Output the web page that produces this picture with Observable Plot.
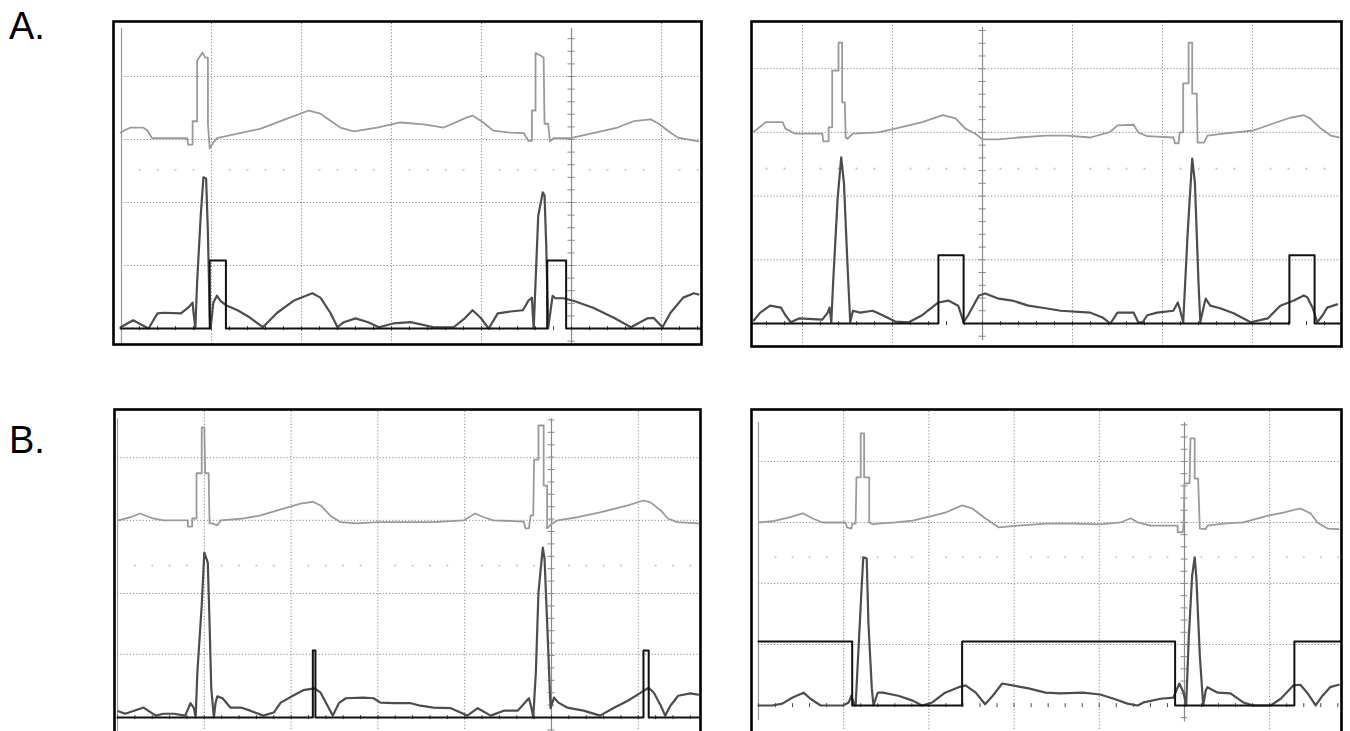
<!DOCTYPE html>
<html><head><meta charset="utf-8">
<script src="https://cdn.jsdelivr.net/npm/d3@7"></script>
<script src="https://cdn.jsdelivr.net/npm/@observablehq/plot@0.6"></script>
<style>
html,body{margin:0;padding:0;background:#fff;overflow:hidden;}
#root{position:relative;width:1350px;height:731px;overflow:hidden;font-family:"Liberation Sans",Arial,sans-serif;}
.lab{position:absolute;font-size:38px;color:#000;line-height:1;}
.panel{position:absolute;}
</style></head><body><div id="root">
<div class="lab" style="left:9px;top:7px">A.</div>
<div class="lab" style="left:9px;top:421px">B.</div>
</div>
<script>
// ---------- data (time in screen divisions, amplitude in divisions) ----------
const aLeftGray = [[-5.01,3.11],[-4.90,3.19],[-4.76,3.19],[-4.71,3.14],[-4.66,3.02],[-4.27,3.02],[-4.26,2.92],[-4.21,2.92],[-4.21,3.29],[-4.16,3.29],[-4.16,4.25],[-4.10,4.38],[-4.07,4.30],[-4.04,4.30],[-4.04,3.25],[-4.02,2.86],[-3.98,2.95],[-3.94,3.02],[-3.46,3.17],[-3.16,3.33],[-2.92,3.46],[-2.79,3.41],[-2.57,3.19],[-2.42,3.13],[-2.16,3.19],[-1.90,3.27],[-1.64,3.24],[-1.42,3.19],[-1.16,3.35],[-1.10,3.38],[-0.98,3.27],[-0.87,3.14],[-0.68,3.11],[-0.53,3.10],[-0.48,2.98],[-0.44,2.98],[-0.44,3.46],[-0.40,3.46],[-0.40,4.37],[-0.34,4.33],[-0.31,4.30],[-0.30,3.25],[-0.26,3.25],[-0.24,2.97],[-0.20,3.02],[-0.01,3.02],[0.24,3.10],[0.51,3.19],[0.69,3.29],[0.88,3.32],[0.97,3.25],[1.07,3.14],[1.18,3.03],[1.41,2.97]];
const aLeftDark = [[-5.01,0.02],[-4.87,0.13],[-4.70,0],[-4.60,0.24],[-4.53,0.25],[-4.34,0.24],[-4.26,0.33],[-4.21,0.41],[-4.20,0.25],[-4.18,0],[-4.16,0.73],[-4.12,1.79],[-4.09,2.40],[-4.06,2.38],[-4.04,1.52],[-4.02,0.21],[-4.01,0],[-3.98,0.41],[-3.94,0.52],[-3.90,0.44],[-3.84,0.37],[-3.71,0.29],[-3.57,0.17],[-3.43,0.02],[-3.27,0.25],[-3.09,0.44],[-2.88,0.56],[-2.79,0.49],[-2.68,0.25],[-2.60,0.02],[-2.53,0.10],[-2.40,0.16],[-2.26,0.10],[-2.14,0.02],[-1.98,0.08],[-1.79,0.10],[-1.53,0.02],[-1.31,0.02],[-1.18,0.17],[-1.10,0.29],[-1.01,0.17],[-0.92,0],[-0.82,0.24],[-0.68,0.27],[-0.54,0.29],[-0.48,0.44],[-0.44,0.49],[-0.43,0.21],[-0.42,0],[-0.40,0.73],[-0.37,1.79],[-0.32,2.16],[-0.30,2.11],[-0.28,1.27],[-0.26,0],[-0.24,0.21],[-0.21,0.52],[-0.18,0.48],[-0.09,0.48],[0.02,0.44],[0.24,0.33],[0.47,0.17],[0.66,0.02],[0.84,0.16],[0.91,0.17],[1.01,0.02],[1.10,0.25],[1.24,0.49],[1.36,0.56],[1.41,0.54]];
const aLeftPulse = [[-5.01,0],[-4.02,1.08],[-3.84,0],[-0.27,1.08],[-0.06,0],[1.44,0]];

const aRightGray = [[-2.54,3.01],[-2.41,3.16],[-2.22,3.16],[-2.19,3.06],[-2.08,2.98],[-1.78,2.98],[-1.77,2.86],[-1.71,2.86],[-1.71,3.08],[-1.67,3.08],[-1.67,3.97],[-1.60,3.97],[-1.60,4.41],[-1.56,4.41],[-1.56,3.47],[-1.53,3.47],[-1.52,2.92],[-1.50,2.90],[-1.44,2.98],[-1.16,3.00],[-0.97,3.06],[-0.67,3.16],[-0.44,3.27],[-0.30,3.22],[-0.19,3.06],[-0.08,2.98],[0,2.89],[0.18,2.89],[0.40,2.92],[0.70,2.95],[0.94,2.95],[1.20,2.92],[1.42,3.01],[1.50,3.11],[1.68,3.12],[1.73,3.00],[1.83,2.94],[2.12,2.92],[2.14,2.83],[2.18,2.83],[2.19,3.00],[2.23,3.00],[2.23,3.77],[2.29,3.77],[2.29,4.41],[2.33,4.41],[2.33,3.61],[2.38,3.61],[2.39,2.84],[2.46,2.84],[2.50,2.95],[2.68,2.98],[3.01,3.03],[3.23,3.14],[3.42,3.23],[3.57,3.27],[3.64,3.22],[3.76,3.06],[3.87,2.95],[3.96,2.92]];
const aRightDark = [[-2.54,0.05],[-2.47,0.17],[-2.36,0.28],[-2.24,0.25],[-2.19,0.13],[-2.13,0.02],[-2.04,0.08],[-1.78,0.06],[-1.72,0.17],[-1.70,0.25],[-1.68,0.02],[-1.66,0.64],[-1.61,1.96],[-1.57,2.61],[-1.54,2.21],[-1.50,0.91],[-1.47,0.02],[-1.44,0.20],[-1.36,0.17],[-1.22,0.20],[-1.11,0.13],[-0.97,0.03],[-0.82,0.02],[-0.67,0.13],[-0.49,0.33],[-0.38,0.36],[-0.27,0.28],[-0.21,0.02],[-0.16,0.13],[-0.04,0.44],[0.03,0.47],[0.18,0.39],[0.33,0.36],[0.51,0.28],[0.70,0.24],[0.87,0.20],[1.20,0.17],[1.34,0.09],[1.42,0],[1.50,0.17],[1.68,0.17],[1.73,0.02],[1.78,0.02],[1.83,0.13],[1.94,0.17],[2.12,0.20],[2.17,0.33],[2.19,0.24],[2.23,0.02],[2.28,1.43],[2.33,2.59],[2.36,2.21],[2.40,0.64],[2.42,0.02],[2.46,0.28],[2.48,0.39],[2.53,0.28],[2.64,0.24],[2.79,0.16],[2.98,0.02],[3.17,0.08],[3.31,0.28],[3.46,0.36],[3.57,0.44],[3.61,0.41],[3.67,0.24],[3.72,0.02],[3.78,0.13],[3.83,0.25],[3.94,0.30]];
const aRightPulse = [[-2.57,0],[-0.49,1.07],[-0.21,0],[3.41,1.07],[3.69,0],[3.99,0]];

const bLeftGray = [[-4.99,3.18],[-4.85,3.23],[-4.74,3.29],[-4.59,3.21],[-4.47,3.18],[-4.19,3.18],[-4.19,3.08],[-4.14,3.08],[-4.14,3.21],[-4.09,3.21],[-4.09,3.94],[-4.03,3.94],[-4.03,4.68],[-4.00,4.68],[-3.99,3.94],[-3.95,3.94],[-3.94,3.13],[-3.91,3.13],[-3.85,3.10],[-3.81,3.18],[-3.55,3.21],[-3.35,3.26],[-3.09,3.37],[-2.89,3.45],[-2.75,3.48],[-2.66,3.42],[-2.55,3.26],[-2.43,3.15],[-2.24,3.13],[-2.00,3.15],[-1.74,3.15],[-1.36,3.15],[-1.01,3.18],[-0.88,3.29],[-0.78,3.23],[-0.67,3.18],[-0.32,3.16],[-0.30,3.05],[-0.26,3.05],[-0.24,3.26],[-0.21,3.26],[-0.20,4.16],[-0.15,4.16],[-0.15,4.71],[-0.09,4.71],[-0.09,3.74],[-0.05,3.74],[-0.05,3.05],[0.01,3.13],[0.07,3.18],[0.30,3.23],[0.56,3.31],[0.88,3.42],[1.06,3.50],[1.14,3.47],[1.26,3.34],[1.34,3.21],[1.45,3.15],[1.69,3.13]];
const bLeftDark = [[-4.99,0.10],[-4.91,0.06],[-4.70,0.16],[-4.56,0.03],[-4.47,0.06],[-4.35,0.06],[-4.22,0.03],[-4.16,0.23],[-4.12,0.15],[-4.10,0],[-4.08,0.73],[-4.03,1.81],[-4.00,2.66],[-3.96,2.50],[-3.94,1.53],[-3.92,0.47],[-3.89,0],[-3.87,0.24],[-3.85,0.34],[-3.79,0.31],[-3.70,0.16],[-3.58,0.16],[-3.47,0.11],[-3.32,0.03],[-3.20,0.08],[-3.12,0.24],[-2.98,0.35],[-2.86,0.44],[-2.73,0.47],[-2.66,0.40],[-2.58,0.19],[-2.52,0.03],[-2.45,0.23],[-2.37,0.31],[-2.17,0.32],[-2.05,0.31],[-1.97,0.24],[-1.82,0.23],[-1.62,0.23],[-1.51,0.19],[-1.36,0.16],[-1.16,0.15],[-0.97,0.03],[-0.85,0.15],[-0.70,0.03],[-0.55,0.11],[-0.39,0.11],[-0.26,0.31],[-0.23,0.15],[-0.21,0],[-0.18,0.73],[-0.15,2.02],[-0.10,2.74],[-0.08,2.56],[-0.05,1.53],[-0.02,0.47],[-0.01,0.15],[0.01,0.24],[0.03,0.32],[0.08,0.24],[0.18,0.16],[0.37,0.11],[0.56,0.03],[0.71,0.15],[0.88,0.27],[1.03,0.40],[1.12,0.48],[1.18,0.40],[1.26,0.19],[1.31,0.03],[1.37,0.19],[1.46,0.35],[1.60,0.39],[1.69,0.37]];
const bLeftPulse = [[-5.00,0],[-2.75,1.08],[-2.72,0],[1.06,1.08],[1.12,0],[1.72,0]];

const bRightGray = [[-5.00,3.00],[-4.84,3.02],[-4.65,3.08],[-4.48,3.15],[-4.37,3.07],[-4.25,3.00],[-3.98,3.00],[-3.96,2.92],[-3.91,2.90],[-3.90,2.98],[-3.86,2.98],[-3.85,3.74],[-3.80,3.74],[-3.80,4.46],[-3.76,4.46],[-3.76,3.74],[-3.70,3.74],[-3.70,3.00],[-3.66,2.97],[-3.60,2.98],[-3.39,3.00],[-3.19,3.03],[-2.96,3.11],[-2.81,3.16],[-2.61,3.28],[-2.49,3.23],[-2.34,3.07],[-2.18,2.92],[-1.95,2.95],[-1.63,2.98],[-1.30,2.98],[-0.99,2.97],[-0.75,3.00],[-0.63,3.07],[-0.55,3.00],[-0.40,2.95],[-0.08,2.95],[-0.08,2.84],[-0.02,2.84],[-0.01,2.98],[0,3.64],[0.06,3.64],[0.07,4.38],[0.12,4.38],[0.12,3.72],[0.16,3.72],[0.18,2.90],[0.25,2.89],[0.27,2.95],[0.46,2.98],[0.69,3.00],[0.97,3.11],[1.16,3.16],[1.36,3.23],[1.48,3.15],[1.56,3.00],[1.68,2.90],[1.81,2.89]];
const bRightDark = [[-5.00,0],[-4.84,0],[-4.72,0.03],[-4.60,0.13],[-4.47,0.21],[-4.39,0.11],[-4.27,0],[-4.13,0],[-4.01,0],[-3.94,0.05],[-3.91,0.16],[-3.88,0.03],[-3.86,0],[-3.83,0.82],[-3.79,1.92],[-3.77,2.43],[-3.73,2.41],[-3.71,1.36],[-3.67,0.28],[-3.65,0],[-3.60,0.21],[-3.54,0.21],[-3.36,0.16],[-3.19,0.08],[-3.08,0],[-2.96,0.05],[-2.81,0.21],[-2.65,0.30],[-2.57,0.33],[-2.45,0.21],[-2.34,0.02],[-2.25,0.16],[-2.14,0.36],[-2.02,0.33],[-1.83,0.28],[-1.63,0.21],[-1.46,0.20],[-1.19,0.21],[-0.99,0.18],[-0.83,0.11],[-0.67,0.03],[-0.55,0],[-0.48,0.05],[-0.28,0.11],[-0.13,0.13],[-0.06,0.36],[-0.01,0.21],[0.02,0],[0.05,1.10],[0.09,2.13],[0.12,2.43],[0.14,2.08],[0.18,0.82],[0.22,0],[0.25,0.25],[0.27,0.30],[0.39,0.21],[0.54,0.20],[0.69,0.05],[0.81,0],[1.01,0],[1.13,0.11],[1.28,0.33],[1.36,0.34],[1.44,0.21],[1.54,0],[1.62,0.16],[1.71,0.30],[1.81,0.34]];
const bRightPulse = [[-5.00,1.05],[-3.90,0],[-2.61,1.05],[-0.11,0],[1.29,1.05],[1.85,1.05]];

// grid levels (divisions)
const gridA = [1, 2, 3, 4];
const gridBLeft = [1.02, 2.0, 3.18, 4.19];
const gridBRight = [1, 2, 3, 4];
const divisions = [-4, -3, -2, -1, 1, 2, 3];

// ---------- layout ----------
const panels = [
  {left:111, top:19, w:592, h:327, xd:[-5.089,1.444], yd:[-0.254,4.873], gray:aLeftGray, dark:aLeftDark, pulse:aLeftPulse, grid:gridA, dotsY:2.52, axisTop:4.76, edge:true},
  {left:749, top:19, w:594, h:329, xd:[-2.567,3.989], yd:[-0.361,4.741], gray:aRightGray, dark:aRightDark, pulse:aRightPulse, grid:gridA, dotsY:2.43, axisTop:4.65, edge:false},
  {left:112, top:407, w:590, h:340, xd:[-5.035,1.717], yd:[-0.452,4.968], gray:bLeftGray, dark:bLeftDark, pulse:bLeftPulse, grid:gridBLeft, dotsY:2.45, axisTop:4.82, edge:true},
  {left:749, top:407, w:594, h:340, xd:[-5.082,1.843], yd:[-0.656,4.852], gray:bRightGray, dark:bRightDark, pulse:bRightPulse, grid:gridBRight, dotsY:2.43, axisTop:4.64, edge:true}
];

const root = document.getElementById("root");
for (const p of panels) {
  const sx = Math.max(-5, p.xd[0]);
  const xt = d3.range(Math.ceil(sx / 0.2), Math.floor(p.xd[1] / 0.2) + 1).map(i => +(i * 0.2).toFixed(2));
  const yt = d3.range(-1, Math.floor(p.axisTop / 0.2) + 1).map(i => +(i * 0.2).toFixed(2));
  const dotsX = xt.filter(v => Math.abs(v - Math.round(v)) > 0.01);
  const vg = divisions.filter(d => d > p.xd[0] && d < p.xd[1]);
  const marks = [
    Plot.ruleY(p.grid, {x1: sx, x2: p.xd[1], stroke: "#8a8a8a", strokeWidth: 1, strokeDasharray: "1.2,2"}),
    Plot.ruleX(vg, {y1: p.yd[0], y2: p.yd[1], stroke: "#8a8a8a", strokeWidth: 1, strokeDasharray: "1.2,2"}),
    Plot.dot(dotsX, {x: d => d, y: p.dotsY, r: 1.1, fill: "#c8c8c8", stroke: "none"}),
    Plot.ruleX([0], {y1: -0.27, y2: p.axisTop, stroke: "#8a8a8a", strokeWidth: 1.2}),
    Plot.ruleY(yt, {x1: -0.04, x2: 0.04, stroke: "#8a8a8a", strokeWidth: 1}),
    Plot.ruleX(xt, {y1: -0.035, y2: 0.03, stroke: "#444", strokeWidth: 1}),
    Plot.line(p.gray, {stroke: "#9a9a9a", strokeWidth: 1.8, clip: "frame"}),
    Plot.line(p.dark, {stroke: "#4d4d4d", strokeWidth: 2.2, clip: "frame"}),
    Plot.line(p.pulse, {curve: "step-after", stroke: "#111", strokeWidth: 2, clip: "frame"}),
    Plot.frame({stroke: "#000", strokeWidth: 2.6})
  ];
  if (p.edge) marks.unshift(Plot.ruleX([-5], {y1: -0.25, y2: p.axisTop, stroke: "#9a9a9a", strokeWidth: 1.2}));
  const svg = Plot.plot({
    width: p.w, height: p.h,
    marginTop: 2, marginBottom: 2, marginLeft: 2, marginRight: 2,
    x: {domain: p.xd, axis: null},
    y: {domain: p.yd, axis: null},
    style: {background: "transparent", overflow: "visible"},
    marks
  });
  svg.classList.add("panel");
  svg.style.left = p.left + "px";
  svg.style.top = p.top + "px";
  root.appendChild(svg);
}
</script>
</body></html>
